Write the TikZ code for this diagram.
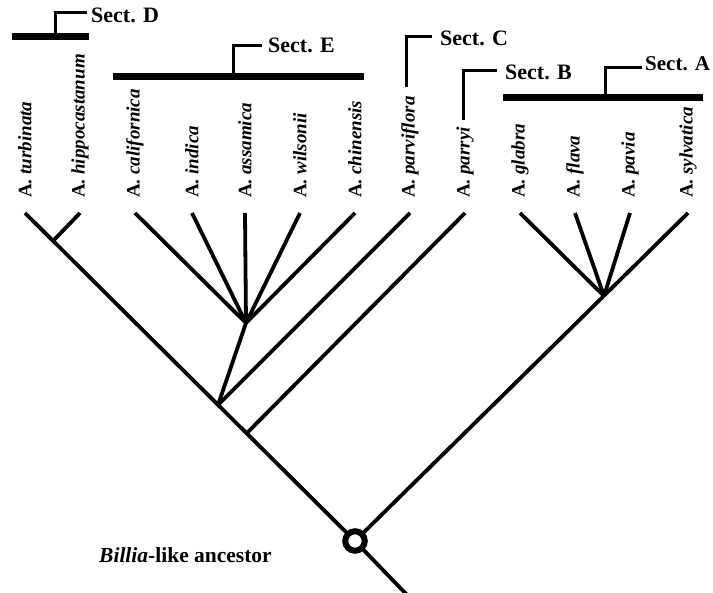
\documentclass[tikz,border=0pt]{standalone}
\usepackage{fontspec}
\setmainfont{Liberation Serif}
\begin{document}
\begin{tikzpicture}[x=1pt,y=-1pt,
  branch/.style={line width=3.8pt},
  secbar/.style={line width=7pt},
  secline/.style={line width=3pt},
  sp/.style={rotate=90, anchor=west, inner sep=0pt, font=\fontsize{19}{19}\selectfont\bfseries},
  sect/.style={anchor=west, inner sep=0pt, font=\fontsize{22}{22}\selectfont\bfseries}]
\useasboundingbox (0,0) rectangle (713,593);
% tips
\coordinate (turb) at (25,213);
\coordinate (hipp) at (80,213);
\coordinate (cal) at (135,213);
\coordinate (ind) at (192,213);
\coordinate (ass) at (245,213);
\coordinate (wil) at (300,213);
\coordinate (chi) at (355,213);
\coordinate (parv) at (410,213);
\coordinate (parr) at (465,213);
\coordinate (gla) at (520,213);
\coordinate (fla) at (575,213);
\coordinate (pav) at (630,213);
\coordinate (syl) at (688,213);
% internal nodes
\coordinate (jD) at (53,241);
\coordinate (jE) at (246,323);
\coordinate (jC) at (218,405);
\coordinate (jB) at (247,433);
\coordinate (jA) at (604,296);
\coordinate (anc) at (355,541);
\coordinate (rootend) at (408,596);
% labels
\node[sp] (lturb) at (25,198) {A. \textit{turbinata}};
\node[sp] (lhipp) at (80,198) {A. \textit{hippocastanum}};
\node[sp] (lcal) at (135,198) {A. \textit{californica}};
\node[sp] (lind) at (192,198) {A. \textit{indica}};
\node[sp] (lass) at (245,198) {A. \textit{assamica}};
\node[sp] (lwil) at (300,198) {A. \textit{wilsonii}};
\node[sp] (lchi) at (355,198) {A. \textit{chinensis}};
\node[sp] (lparv) at (410,198) {A. \textit{parviflora}};
\node[sp] (lparr) at (465,198) {A. \textit{parryi}};
\node[sp] (lgla) at (520,198) {A. \textit{glabra}};
\node[sp] (lfla) at (575,198) {A. \textit{flava}};
\node[sp] (lpav) at (630,198) {A. \textit{pavia}};
\node[sp] (lsyl) at (688,198) {A. \textit{sylvatica}};
% branches
\draw[branch] (turb) -- (anc);
\draw[branch] (hipp) -- (jD);
\draw[branch] (cal) -- (jE);
\draw[branch] (ind) -- (jE);
\draw[branch] (ass) -- (jE);
\draw[branch] (wil) -- (jE);
\draw[branch] (chi) -- (jE);
\draw[branch] (jE) -- (jC);
\draw[branch] (parv) -- (jC);
\draw[branch] (parr) -- (jB);
\draw[branch] (syl) -- (anc);
\draw[branch] (gla) -- (jA);
\draw[branch] (fla) -- (jA);
\draw[branch] (pav) -- (jA);
\draw[branch] (anc) -- (rootend);
\node[circle, draw, line width=6pt, fill=white, minimum size=19.5pt, inner sep=0pt] (ring) at (anc) {};
% sections
\coordinate (dL) at (12,37); \coordinate (dR) at (89,37); \coordinate (dM) at (55,37);
\coordinate (dT) at (55,13); \coordinate (dE) at (87,13);
\draw[secbar] (dL) -- (dR);
\draw[secline] (dM) -- (dT) -- (dE);
\node[sect] (sD) at (91,15) {Sect. D};
\coordinate (eL) at (113,77); \coordinate (eR) at (364,77); \coordinate (eM) at (233,77);
\coordinate (eT) at (233,46); \coordinate (eE) at (262,46);
\draw[secbar] (eL) -- (eR);
\draw[secline] (eM) -- (eT) -- (eE);
\node[sect] (sE) at (268,45) {Sect. E};
\coordinate (cB) at (406,87); \coordinate (cT) at (406,37); \coordinate (cE) at (432,37);
\draw[secline] (cB) -- (cT) -- (cE);
\node[sect] (sC) at (440,38) {Sect. C};
\coordinate (bB) at (463,120); \coordinate (bT) at (463,71); \coordinate (bE) at (497,71);
\draw[secline] (bB) -- (bT) -- (bE);
\node[sect] (sB) at (505,72) {Sect. B};
\coordinate (aL) at (503,98); \coordinate (aR) at (703,98); \coordinate (aM) at (605,98);
\coordinate (aT) at (605,68); \coordinate (aE) at (642,68);
\draw[secbar] (aL) -- (aR);
\draw[secline] (aM) -- (aT) -- (aE);
\node[sect, font=\fontsize{21}{21}\selectfont\bfseries] (sA) at (645,64) {Sect. A};
\node[anchor=west, inner sep=0pt, font=\fontsize{21.5}{21.5}\selectfont\bfseries] (bil) at (99,555) {\textit{Billia}-like ancestor};
\end{tikzpicture}
\end{document}
